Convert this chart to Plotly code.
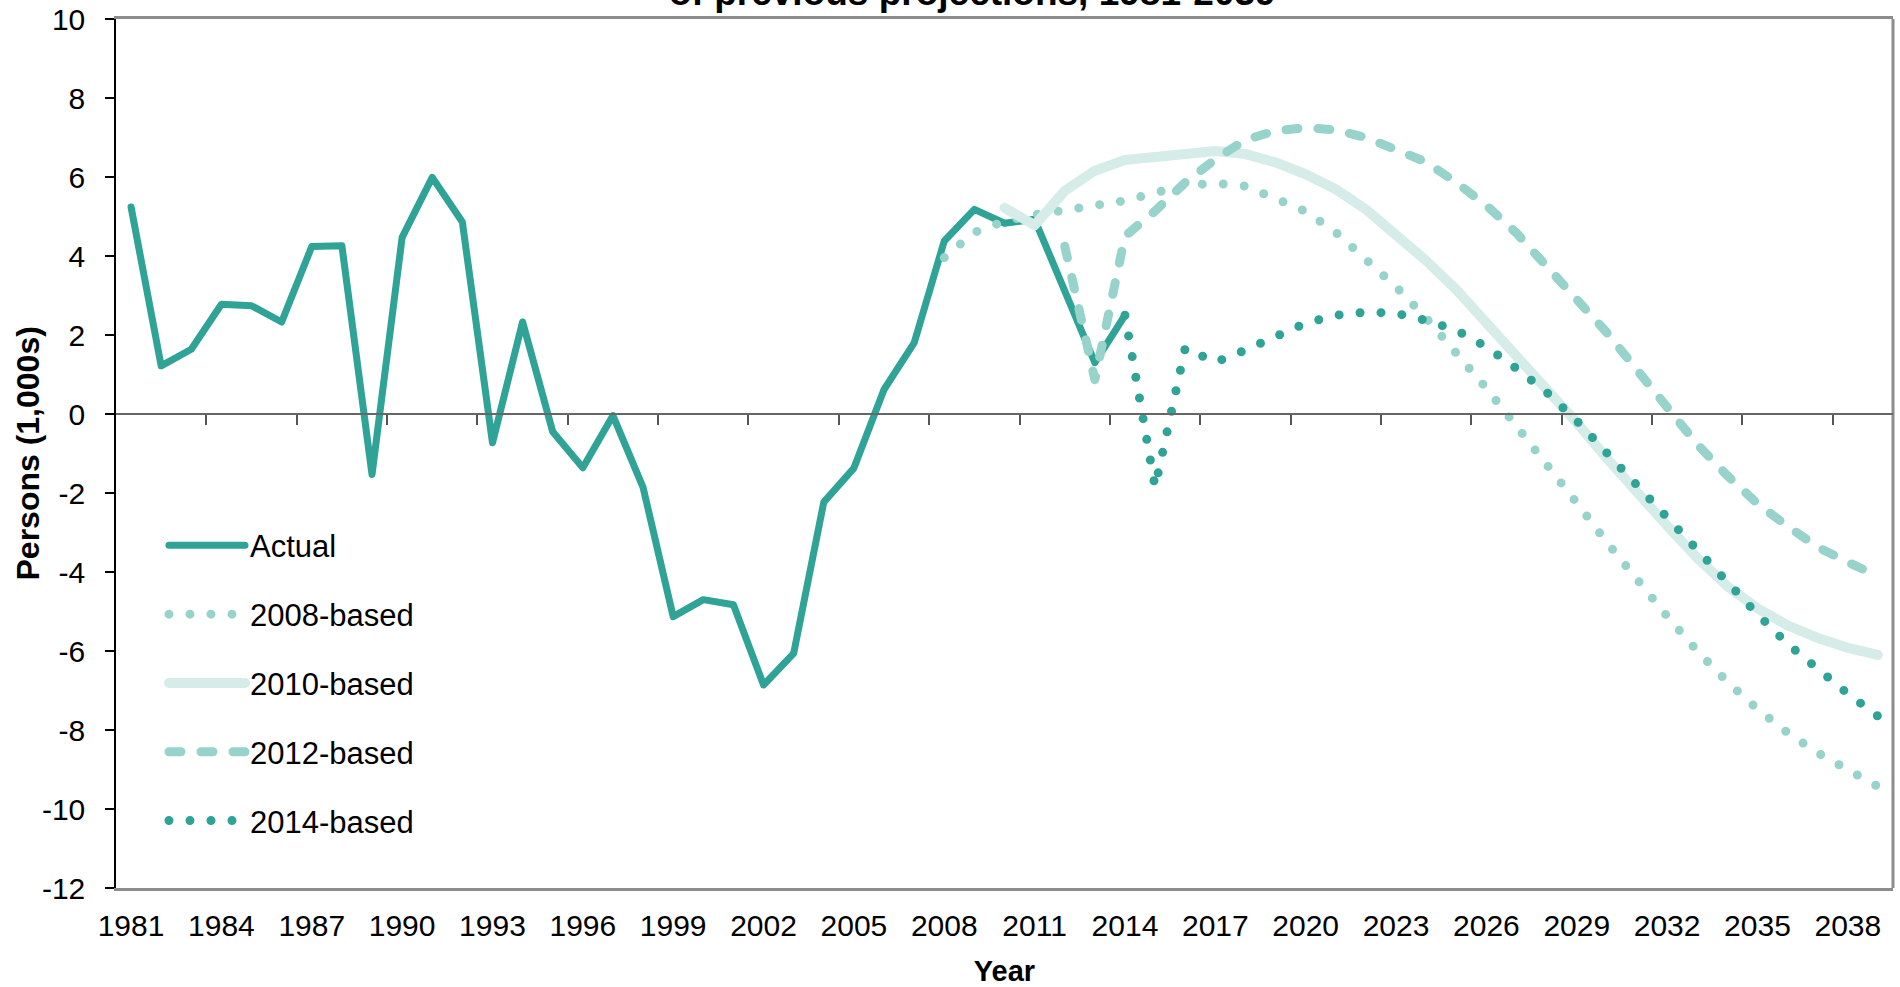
import plotly.graph_objects as go

years = list(range(1981, 2040))

actual_years = list(range(1981, 2015))
actual = [5.24, 1.22, 1.64, 2.78, 2.74, 2.33, 4.24, 4.26, -1.53, 4.47,
          5.99, 4.86, -0.73, 2.33, -0.45, -1.36, -0.04, -1.86, -5.13, -4.70,
          -4.83, -6.86, -6.06, -2.23, -1.37, 0.62, 1.80, 4.38, 5.18, 4.83,
          4.93, 3.15, 1.30, 2.50]

p2008_years = list(range(2008, 2040))
p2008 = [3.96, 4.60, 4.88, 5.05, 5.16, 5.28, 5.40, 5.60, 5.79, 5.84,
         5.77, 5.45, 5.13, 4.60, 3.92, 3.22, 2.43, 1.55, 0.65, -0.31,
         -1.25, -2.25, -3.25, -4.20, -5.12, -6.00, -6.78, -7.47, -8.07, -8.58,
         -9.03, -9.43]

p2010_years = list(range(2010, 2040))
p2010 = [5.22, 4.78, 5.65, 6.16, 6.43, 6.49, 6.59, 6.66, 6.58, 6.37,
         6.07, 5.69, 5.18, 4.56, 3.88, 3.15, 2.33, 1.51, 0.66, -0.22,
         -1.12, -2.00, -2.83, -3.64, -4.36, -4.92, -5.35, -5.67, -5.92, -6.10]

p2012_years = list(range(2012, 2040))
p2012 = [4.25, 0.87, 4.50, 5.14, 5.86, 6.45, 6.94, 7.17, 7.25, 7.19,
         7.00, 6.72, 6.38, 5.86, 5.28, 4.58, 3.78, 2.90, 2.06, 1.12,
         0.15, -0.77, -1.56, -2.27, -2.84, -3.37, -3.75, -4.11]

p2014_years = list(range(2014, 2040))
p2014 = [2.50, -1.85, 1.67, 1.31, 1.62, 1.97, 2.30, 2.50, 2.58, 2.55,
         2.37, 2.12, 1.70, 1.15, 0.55, -0.17, -1.00, -1.82, -2.64, -3.46,
         -4.27, -5.07, -5.82, -6.47, -7.08, -7.65]

tick_years = years[::3]
tick_labels = [str(y) for y in tick_years]
boundary_ticks = [y + 0.5 for y in range(1983, 2039, 3)]
y_ticks = list(range(-12, 11, 2))
y_tick_labels = [str(v) for v in y_ticks]

DARK = "#2ea396"
MID = "#97d3cb"
LIGHT = "#d5ece9"
SANS = "Liberation Sans, Arial, sans-serif"

fig = go.Figure()
series = [
    ("Actual", actual_years, actual, DARK, 7, "solid"),
    ("2008-based", p2008_years, p2008, MID, 9, "0px,21px"),
    ("2010-based", p2010_years, p2010, LIGHT, 10, "solid"),
    ("2012-based", p2012_years, p2012, MID, 9, "12px,20px"),
    ("2014-based", p2014_years, p2014, DARK, 9, "0px,21px"),
]
for name, xs, ys, col, w, dash in series:
    fig.add_trace(go.Scatter(x=xs, y=ys, name=name, mode="lines", legendgroup=name,
                             line=dict(color=col, width=w, dash=dash)))

# zero line with category-boundary tick marks
fig.add_trace(go.Scatter(x=[years[0]], y=[None], xaxis="x2", showlegend=False,
                         hoverinfo="skip"))

fig.update_layout(
    width=1900, height=987,
    margin=dict(l=116, r=7, t=19, b=99),
    plot_bgcolor="white", paper_bgcolor="white",
    font=dict(family=SANS, size=30, color="black"),
    xaxis=dict(range=[1980.5, 2039.5], tickmode="array", tickvals=tick_years,
               ticktext=tick_labels, ticks="", showgrid=False, zeroline=False,
               showline=True, linecolor="#8c8c8c", linewidth=3, mirror=True,
               automargin=False,
               tickfont=dict(family=SANS, size=30), ticklabelstandoff=9,
               title=dict(text="<b>Year</b>", font=dict(family=SANS, size=29),
                          standoff=21)),
    xaxis2=dict(range=[1980.5, 2039.5], overlaying="x", anchor="free",
                position=12/22, tickmode="array", tickvals=boundary_ticks,
                ticks="outside", ticklen=10, tickcolor="#555555", tickwidth=1.5,
                showticklabels=False, showgrid=False, zeroline=False,
                showline=True, linecolor="#666666", linewidth=1.5,
                automargin=False),
    yaxis=dict(range=[-12, 10], tickmode="array", tickvals=y_ticks,
               ticktext=y_tick_labels,
               ticks="outside", ticklen=9, tickcolor="black", tickwidth=1.5,
               showgrid=False, zeroline=False, showline=True, linecolor="black",
               linewidth=1.5, tickfont=dict(family=SANS, size=30),
               ticklabelstandoff=14, automargin=False),
    legend=dict(x=0.027, y=0.425, xanchor="left", yanchor="top",
                bgcolor="rgba(0,0,0,0)", font=dict(family=SANS, size=31),
                tracegroupgap=25.5, itemwidth=76, traceorder="grouped"),
    shapes=[dict(type="line", xref="paper", yref="paper", x0=1, x1=1, y0=0, y1=1,
                 line=dict(color="#8c8c8c", width=3), layer="below")],
    annotations=[
        dict(text="<b>of previous projections, 1981-2039</b>",
             xref="paper", yref="paper", x=0.482, y=1, xanchor="center",
             yanchor="bottom", yshift=4, showarrow=False,
             font=dict(family=SANS, size=37, color="black")),
        dict(text="<b>Persons (1,000s)</b>", textangle=-90,
             xref="paper", yref="paper", x=0, y=0.5, xanchor="center",
             yanchor="middle", xshift=-89, showarrow=False,
             font=dict(family=SANS, size=32, color="black")),
    ],
)

post = """
document.documentElement.style.margin='0';
document.documentElement.style.overflow='hidden';
document.body.style.margin='0';
document.body.style.padding='0';
function roundCaps(){
  document.querySelectorAll('path.js-line').forEach(function(p){
    p.style.strokeLinecap='round'; p.style.strokeLinejoin='round';
  });
}
roundCaps();
var gd = document.getElementById('{plot_id}');
if (gd && gd.on) { gd.on('plotly_afterplot', roundCaps); }
"""
fig.write_html("out.html", post_script=post, config={"displayModeBar": False})
